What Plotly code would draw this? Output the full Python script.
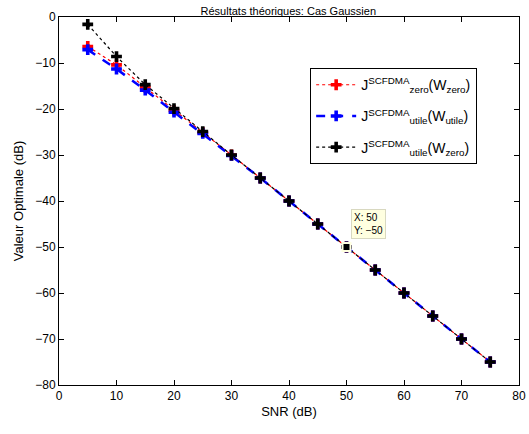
import plotly.graph_objects as go

# SNR en dB
snr = [5, 10, 15, 20, 25, 30, 35, 40, 45, 50, 55, 60, 65, 70, 75]

# valeurs optimales (dB)
j_zero_wzero = [-6.4, -10.4, -15.3, -20.3, -25.1, -30.0, -35.0, -40.0, -45.0, -50.0, -55.0, -60.0, -65.0, -70.0, -75.0]
j_utile_wutile = [-7.1, -11.3, -15.9, -20.7, -25.3, -30.1, -35.0, -40.0, -45.0, -50.0, -55.0, -60.0, -65.0, -70.0, -75.0]
j_utile_wzero = [-1.6, -8.6, -14.7, -19.9, -24.9, -30.0, -35.0, -40.0, -45.0, -50.0, -55.0, -60.0, -65.0, -70.0, -75.0]

# point du "data cursor"
tip_x = [50]
tip_y = [-50]

fig = go.Figure()

fig.add_trace(go.Scatter(
    x=snr, y=j_zero_wzero, mode='lines+markers', legendgroup='a',
    name='J<sup>SCFDMA</sup><sub>zero</sub>(W<sub>zero</sub>)',
    line=dict(color='red', width=1.2, dash='dot'),
    marker=dict(symbol='cross', size=9, color='red')
))
fig.add_trace(go.Scatter(
    x=snr, y=j_utile_wutile, mode='lines+markers', legendgroup='b',
    name='J<sup>SCFDMA</sup><sub>utile</sub>(W<sub>utile</sub>)',
    line=dict(color='blue', width=2.5, dash='dash'),
    marker=dict(symbol='cross', size=9, color='blue')
))
fig.add_trace(go.Scatter(
    x=snr, y=j_utile_wzero, mode='lines+markers', legendgroup='c',
    name='J<sup>SCFDMA</sup><sub>utile</sub>(W<sub>zero</sub>)',
    line=dict(color='black', width=1.2, dash='dot'),
    marker=dict(symbol='cross', size=9, color='black')
))
fig.add_trace(go.Scatter(
    x=tip_x, y=tip_y, mode='markers', showlegend=False,
    marker=dict(symbol='square', size=8, color='black',
                line=dict(color='#ffffe0', width=2))
))

fig.add_annotation(
    x=tip_x[0], y=tip_y[0], xref='x', yref='y',
    text='X: 50<br>Y: \u221250', showarrow=False, align='left',
    xanchor='left', yanchor='bottom', xshift=4, yshift=8,
    bgcolor='#ffffe0', bordercolor='#d8d8c0', borderwidth=1, borderpad=2,
    font=dict(size=10, color='black')
)

axis_style = dict(
    showline=True, linecolor='black', linewidth=1, mirror='ticks',
    ticks='inside', ticklen=5, tickcolor='black', showgrid=False,
    zeroline=False, automargin=False, tickfont=dict(size=12, color='black')
)

fig.update_layout(
    width=529, height=434,
    margin=dict(l=59, r=10, t=17, b=49),
    paper_bgcolor='white', plot_bgcolor='white',
    font=dict(family='Liberation Sans, Arial, sans-serif', size=11, color='black'),
    title=dict(text='Résultats théoriques: Cas Gaussien', x=0.545, xanchor='center',
               y=1 - 11 / 434, yanchor='middle', font=dict(size=11)),
    xaxis=dict(range=[0, 80], dtick=10, title=dict(text='SNR (dB)', standoff=4), **axis_style),
    yaxis=dict(range=[-80, 0], dtick=10, title=dict(text='Valeur Optimale (dB)', standoff=8), **axis_style),
    legend=dict(x=0.546, y=0.861, xanchor='left', yanchor='top',
                bordercolor='black', borderwidth=1, bgcolor='white',
                font=dict(size=14), tracegroupgap=10, itemwidth=40),
    showlegend=True
)

# pas de marge de page autour de la figure, pas de barre d'outils
fig.write_html("out.html", config={'displayModeBar': False},
               post_script="document.body.style.margin = '0';")
